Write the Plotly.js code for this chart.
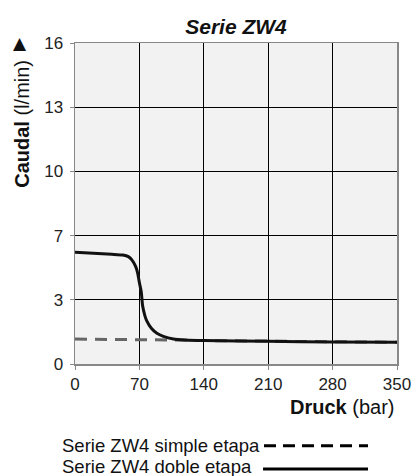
<!DOCTYPE html>
<html>
<head>
<meta charset="utf-8">
<script src="https://cdn.plot.ly/plotly-3.0.1.min.js"></script>
<style>html,body{margin:0;padding:0;background:#fff;}#chart{width:418px;height:476px;}</style>
</head>
<body>
<div id="chart"></div>
<script>
// Pressure (bar)
const dobleX = [0, 20, 40, 52, 58, 62, 66, 68, 70, 72, 73.5, 76, 78, 83, 89, 96, 107, 120, 140, 210, 280, 350];
const dobleY = [5.57, 5.52, 5.47, 5.43, 5.35, 5.18, 4.85, 4.55, 4.05, 3.6, 2.9, 2.4, 2.15, 1.78, 1.53, 1.38, 1.25, 1.2, 1.17, 1.13, 1.1, 1.08];
const simpleX = [0, 70, 100, 140, 210, 280, 350];
const simpleY = [1.24, 1.23, 1.2, 1.17, 1.13, 1.1, 1.08];
const yTickVals = [0, 3.2, 6.4, 9.6, 12.8, 16];
const yTickText = ["0", "3", "7", "10", "13", "16"];
const xTickVals = [0, 70, 140, 210, 280, 350];
const legendNames = ["Serie ZW4 simple etapa", "Serie ZW4 doble etapa"];

const font = "Liberation Sans, Arial, sans-serif";

const traces = [
  {x: simpleX, y: simpleY, mode: "lines", line: {color: "#666666", width: 3, dash: "12px,8px"}, name: legendNames[0], hoverinfo: "skip"},
  {x: dobleX, y: dobleY, mode: "lines", line: {color: "#111111", width: 3, shape: "spline", smoothing: 0.6}, name: legendNames[1], hoverinfo: "skip"}
];

const layout = {
  width: 418, height: 476,
  margin: {l: 75, r: 21, t: 43, b: 112},
  paper_bgcolor: "#ffffff",
  plot_bgcolor: "#f2f2f2",
  showlegend: false,
  font: {family: font, color: "#222", size: 17},
  title: {text: "<b><i>Serie ZW4</i></b>", font: {size: 21, family: font, color: "#111"}, x: 0.5, xref: "paper", xanchor: "center", y: 0.944, yanchor: "middle"},
  xaxis: {range: [0, 350], tickvals: xTickVals, ticktext: xTickVals.map(String), showgrid: true, gridcolor: "#000", gridwidth: 1,
    zeroline: false, showline: true, mirror: true, linecolor: "#888", linewidth: 1.5, ticks: "outside", ticklen: 4, tickcolor: "#888",
    tickfont: {size: 17, family: font, color: "#222"}, fixedrange: true},
  yaxis: {range: [0, 16], tickvals: yTickVals, ticktext: yTickText, showgrid: true, gridcolor: "#000", gridwidth: 1,
    zeroline: false, showline: true, mirror: true, linecolor: "#888", linewidth: 1.5, ticks: "outside", ticklen: 4, tickcolor: "#888",
    ticklabelstandoff: 3,
    tickfont: {size: 17, family: font, color: "#222"}, fixedrange: true},
  annotations: [
    {text: "<b>Caudal</b> (l/min)", textangle: -90, xref: "paper", yref: "paper", x: -0.165, y: 0.748, xanchor: "center", yanchor: "middle", showarrow: false, font: {size: 20, family: font, color: "#111"}},
    {text: "▲", xref: "paper", yref: "paper", x: -0.171, y: 1.0, xanchor: "center", yanchor: "middle", showarrow: false, font: {size: 17, family: "DejaVu Sans, sans-serif", color: "#111"}},
    {text: "<b>Druck</b> (bar)", xref: "paper", yref: "paper", x: 1.0, y: -0.134, xanchor: "right", yanchor: "middle", showarrow: false, font: {size: 20, family: font, color: "#111"}},
    {text: legendNames[0], xref: "paper", yref: "paper", x: -0.046, y: -0.255, xanchor: "left", yanchor: "middle", showarrow: false, font: {size: 18.5, family: font, color: "#111"}},
    {text: legendNames[1], xref: "paper", yref: "paper", x: -0.046, y: -0.318, xanchor: "left", yanchor: "middle", showarrow: false, font: {size: 18.5, family: font, color: "#111"}}
  ],
  shapes: [
    {type: "line", xref: "paper", yref: "paper", x0: 0.587, x1: 0.91, y0: -0.255, y1: -0.255, line: {color: "#000", width: 3, dash: "12px,7px"}},
    {type: "line", xref: "paper", yref: "paper", x0: 0.584, x1: 0.91, y0: -0.327, y1: -0.327, line: {color: "#000", width: 3}}
  ]
};

Plotly.newPlot("chart", traces, layout, {displayModeBar: false, staticPlot: true});
</script>
</body>
</html>
